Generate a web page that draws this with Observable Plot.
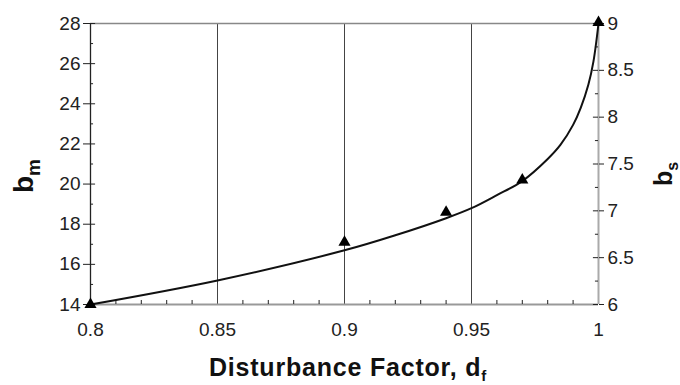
<!DOCTYPE html>
<html><head><meta charset="utf-8">
<script src="https://cdn.jsdelivr.net/npm/d3@7"></script>
<script src="https://cdn.jsdelivr.net/npm/@observablehq/plot@0.6"></script>
<style>body{margin:0;background:#fff}</style>
</head><body><div id="chart"></div>
<script>
// fitted curve (disturbance factor vs b_m)
const curveD  = [0.80, 0.85, 0.90, 0.92, 0.94, 0.95, 0.96, 0.97, 0.98, 0.985, 0.99, 0.993, 0.996, 0.998, 1.0];
const curveBm = [14.0, 15.2, 16.7, 17.45, 18.3, 18.8, 19.45, 20.15, 21.25, 21.95, 22.95, 23.8, 24.95, 26.1, 28.0];
// measured points (triangles)
const pointD  = [0.80, 0.90, 0.94, 0.97, 1.0];
const pointBm = [14.0, 17.1, 18.6, 20.2, 28.05];
// ticks
const xTicks = [0.8, 0.85, 0.9, 0.95, 1];
const xTickLabels = ["0.8", "0.85", "0.9", "0.95", "1"];
const xGrid = [0.85, 0.9, 0.95];
const xMinor = [0.81,0.82,0.83,0.84,0.86,0.87,0.88,0.89,0.91,0.92,0.93,0.94,0.96,0.97,0.98,0.99];
const bmTicks = [14, 16, 18, 20, 22, 24, 26, 28];
const bmMinor = [15, 17, 19, 21, 23, 25, 27];
const bsTicks = [6, 6.5, 7, 7.5, 8, 8.5, 9];
const bsTickLabels = ["6", "6.5", "7", "7.5", "8", "8.5", "9"];
const bsMinor = [6.25, 6.75, 7.25, 7.75, 8.25, 8.75];

const bsToBm = v => 14 + (v - 6) * 14 / 3;
const curve = curveD.map((d, i) => ({d, bm: curveBm[i]}));
const points = pointD.map((d, i) => ({d, bm: pointBm[i]}));
const bsMajor = bsTicks.map((v, i) => ({bm: bsToBm(v), label: bsTickLabels[i]}));

const plot = Plot.plot({
  width: 680, height: 385,
  marginLeft: 90, marginRight: 82, marginTop: 23, marginBottom: 81,
  style: {fontFamily: "'Liberation Sans', Arial, sans-serif", fontSize: "19px", color: "#222", background: "#fff"},
  x: {domain: [0.8, 1]},
  y: {domain: [14, 28]},
  marks: [
    Plot.ruleX(xGrid, {stroke: "#444", strokeWidth: 1}),
    Plot.ruleY([28], {stroke: "#888", strokeWidth: 1.5}),
    Plot.ruleY([14], {stroke: "#999", strokeWidth: 2}),
    Plot.ruleX([1], {stroke: "#aaa", strokeWidth: 2}),
    Plot.ruleX([0.8], {stroke: "#222", strokeWidth: 1.3}),
    Plot.ruleX(xMinor, {y1: 14, y2: 14.2, stroke: "#222"}),
    Plot.ruleY(bmTicks, {x1: 0.8, x2: 0.802, stroke: "#222"}),
    Plot.ruleY(bmMinor, {x1: 0.8, x2: 0.8012, stroke: "#222"}),
    Plot.ruleY(bsMajor, {y: "bm", x1: 0.998, x2: 1.0, stroke: "#222"}),
    Plot.ruleY(bsMinor.map(bsToBm), {x1: 0.9988, x2: 1.0, stroke: "#222"}),
    Plot.axisY(bmTicks, {anchor: "left", label: null, tickSize: 7, tickPadding: 3, stroke: "#222"}),
    Plot.axisY(bsMajor.map(o => o.bm), {anchor: "right", label: null, tickSize: 5, tickPadding: 4, stroke: "#222",
      tickFormat: (v) => bsMajor.find(o => Math.abs(o.bm - v) < 1e-9).label}),
    Plot.axisX(xTicks, {anchor: "bottom", label: null, tickSize: 0, tickPadding: 18,
      tickFormat: (v) => xTickLabels[xTicks.indexOf(v)]}),
    Plot.line(curve, {x: "d", y: "bm", stroke: "#111", strokeWidth: 2, curve: "catmull-rom"}),
    Plot.dot(points, {x: "d", y: "bm", symbol: "triangle", r: 4.5, fill: "#000", stroke: "none"})
  ]
});
document.getElementById("chart").appendChild(plot);

const svg = d3.select(plot);
// x axis title
const xt = svg.append("text")
  .attr("x", 348).attr("y", 376)
  .attr("text-anchor", "middle")
  .attr("font-weight", "bold").attr("font-size", 25)
  .attr("letter-spacing", "0.8px")
  .attr("fill", "#111");
xt.append("tspan").text("Disturbance Factor, d");
xt.append("tspan").attr("font-size", 15).attr("dy", 5).text("f");
// left y title
const yl = svg.append("text")
  .attr("transform", "translate(33,176) rotate(-90)")
  .attr("font-weight", "bold").attr("font-size", 28).attr("fill", "#111");
yl.append("tspan").text("b");
yl.append("tspan").attr("font-size", 19).attr("dy", 7).text("m");
// right y title
const yr = svg.append("text")
  .attr("transform", "translate(672,174) rotate(-90)")
  .attr("font-weight", "bold").attr("font-size", 25).attr("fill", "#111");
yr.append("tspan").text("b");
yr.append("tspan").attr("font-size", 16).attr("dy", 6).text("s");
</script>
</body></html>
